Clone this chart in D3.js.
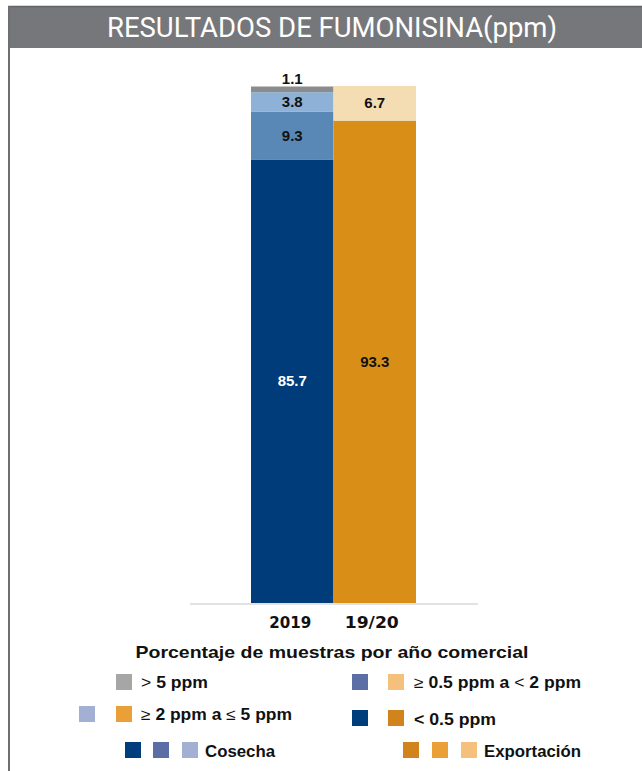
<!DOCTYPE html>
<html>
<head>
<meta charset="utf-8">
<script src="https://cdn.jsdelivr.net/npm/d3@7"></script>
<style>
  html, body { margin: 0; padding: 0; background: #fff; }
  svg { display: block; }
  text { font-family: "Liberation Sans", Arial, sans-serif; }
</style>
</head>
<body>
<svg id="chart" width="642" height="771"></svg>
<script>
// ---- Data ----
const years = ["2019", "19/20"];
const seriesNames = ["< 0.5 ppm", "≥ 0.5 ppm a < 2 ppm", "≥ 2 ppm a ≤ 5 ppm", "> 5 ppm"];
const values2019 = [85.7, 9.3, 3.8, 1.1];
const values1920 = [93.3, 6.7, 0, 0];
const colors2019 = ["#003b7a", "#5a88b6", "#8eb1d7", "#8a8b8d"];
const colors1920 = ["#d98f17", "#f4dcb3", "#eaa03a", "#a6a6a6"];
const labelColors2019 = ["#ffffff", "#111111", "#111111", "#111111"];
const labelColors1920 = ["#111111", "#111111", "#111111", "#111111"];
const yMax = 100;
const chartTitle = "RESULTADOS DE FUMONISINA(ppm)";
const axisTitle = "Porcentaje de muestras por año comercial";
const groupNames = ["Cosecha", "Exportación"];

const valuesByYear = [values2019, values1920];
const colorsByYear = [colors2019, colors1920];
const labelColorsByYear = [labelColors2019, labelColors1920];

const svg = d3.select("#chart");

// frame
svg.append("rect").attr("x", 8).attr("y", 6).attr("width", 634).attr("height", 42).attr("fill", "#76777b");
svg.append("line").attr("x1", 8).attr("x2", 642).attr("y1", 6.5).attr("y2", 6.5).attr("stroke", "#626366").attr("stroke-width", 1.5);
svg.append("line").attr("x1", 9).attr("x2", 9).attr("y1", 6).attr("y2", 771).attr("stroke", "#6e6f72").attr("stroke-width", 2);

svg.append("text")
  .attr("x", 332).attr("y", 37)
  .attr("text-anchor", "middle")
  .attr("fill", "#ffffff")
  .attr("font-size", 27)
  .attr("font-weight", "normal")
  .style("font-family", "Roboto, 'Liberation Sans', sans-serif")
  .attr("textLength", 450)
  .attr("lengthAdjust", "spacingAndGlyphs")
  .text(chartTitle);

// scales
const x = d3.scaleBand().domain(years).range([251, 416]).paddingInner(0).paddingOuter(0);
const y = d3.scaleLinear().domain([0, yMax]).range([603, 86]);

// stacks
years.forEach((yr, i) => {
  const vals = valuesByYear[i];
  let cum = 0;
  vals.forEach((v, j) => {
    if (v <= 0) return;
    const y0 = cum, y1 = cum + v;
    cum = y1;
    const h = y(y0) - y(y1);
    svg.append("rect")
      .attr("x", x(yr))
      .attr("width", x.bandwidth())
      .attr("y", y(y1))
      .attr("height", h)
      .attr("fill", colorsByYear[i][j]);
    const ly = h < 12 ? y(y1) - 3 : (y(y0) + y(y1)) / 2 + 5;
    svg.append("text")
      .attr("x", x(yr) + x.bandwidth() / 2)
      .attr("y", ly)
      .attr("text-anchor", "middle")
      .attr("font-size", 15)
      .attr("font-weight", "bold")
      .attr("fill", h < 12 ? "#111111" : labelColorsByYear[i][j])
      .text(v.toFixed(1));
  });
});

// axis
svg.append("line").attr("x1", 190).attr("x2", 478).attr("y1", 604).attr("y2", 604)
  .attr("stroke", "#d9d9d9").attr("stroke-width", 1.5);
const xAxis = d3.axisBottom(x).tickSize(0).tickPadding(0);
const ax = svg.append("g").attr("transform", "translate(0,628)").call(xAxis);
ax.select(".domain").remove();
ax.selectAll(".tick").attr("transform", d => `translate(${x(d) + x.bandwidth() / 2 + (d === "2019" ? -2 : -3)},0)`);
ax.selectAll("text")
  .attr("dy", 0)
  .attr("y", 0)
  .attr("font-size", 16)
  .attr("font-weight", "bold")
  .attr("fill", "#111111")
  .style("font-family", "'DejaVu Sans', sans-serif")
  .attr("textLength", d => d === "2019" ? 42 : 54)
  .attr("lengthAdjust", "spacingAndGlyphs");

svg.append("text")
  .attr("x", 332).attr("y", 658)
  .attr("text-anchor", "middle")
  .attr("font-size", 17)
  .attr("font-weight", "bold")
  .attr("fill", "#111111")
  .attr("textLength", 393)
  .attr("lengthAdjust", "spacingAndGlyphs")
  .text(axisTitle);

// legend (label parts: [text, thin?])
const legendItems = [
  { squares: [[116, "#a6a6a6"]], parts: [[">", true], [" 5 ppm", false]], tx: 141, y: 674, base: 688, w: 67 },
  { squares: [[79, "#a3b0d4"], [116, "#eaa036"]], parts: [["≥", true], [" 2 ppm a ", false], ["≤", true], [" 5 ppm", false]], tx: 141, y: 706, base: 720, w: 151 },
  { squares: [[352, "#5b6fa6"], [388, "#f4c07b"]], parts: [["≥", true], [" 0.5 ppm a ", false], ["<", true], [" 2 ppm", false]], tx: 414, y: 674, base: 688, w: 167 },
  { squares: [[352, "#003d7d"], [388, "#d0841b"]], parts: [[seriesNames[0], false]], tx: 414, y: 710, base: 725, w: 82 },
  { squares: [[125, "#003d7d"], [153, "#5b6fa6"], [182, "#a3b0d4"]], parts: [[groupNames[0], false]], tx: 205, y: 742, base: 757, w: 70 },
  { squares: [[403, "#d0841b"], [432, "#eaa036"], [461, "#f4c07b"]], parts: [[groupNames[1], false]], tx: 484, y: 742, base: 757, w: 97 }
];
const lg = svg.append("g");
legendItems.forEach(it => {
  it.squares.forEach(([sx, c]) => {
    lg.append("rect").attr("x", sx).attr("y", it.y).attr("width", 16).attr("height", 16).attr("fill", c);
  });
  const t = lg.append("text")
    .attr("x", it.tx).attr("y", it.base)
    .attr("font-size", 16)
    .attr("font-weight", "bold")
    .attr("fill", "#111111")
    .attr("textLength", it.w)
    .attr("lengthAdjust", "spacingAndGlyphs");
  it.parts.forEach(([s, thin]) => {
    t.append("tspan").attr("font-weight", thin ? "normal" : "bold").text(s);
  });
});
</script>
</body>
</html>
